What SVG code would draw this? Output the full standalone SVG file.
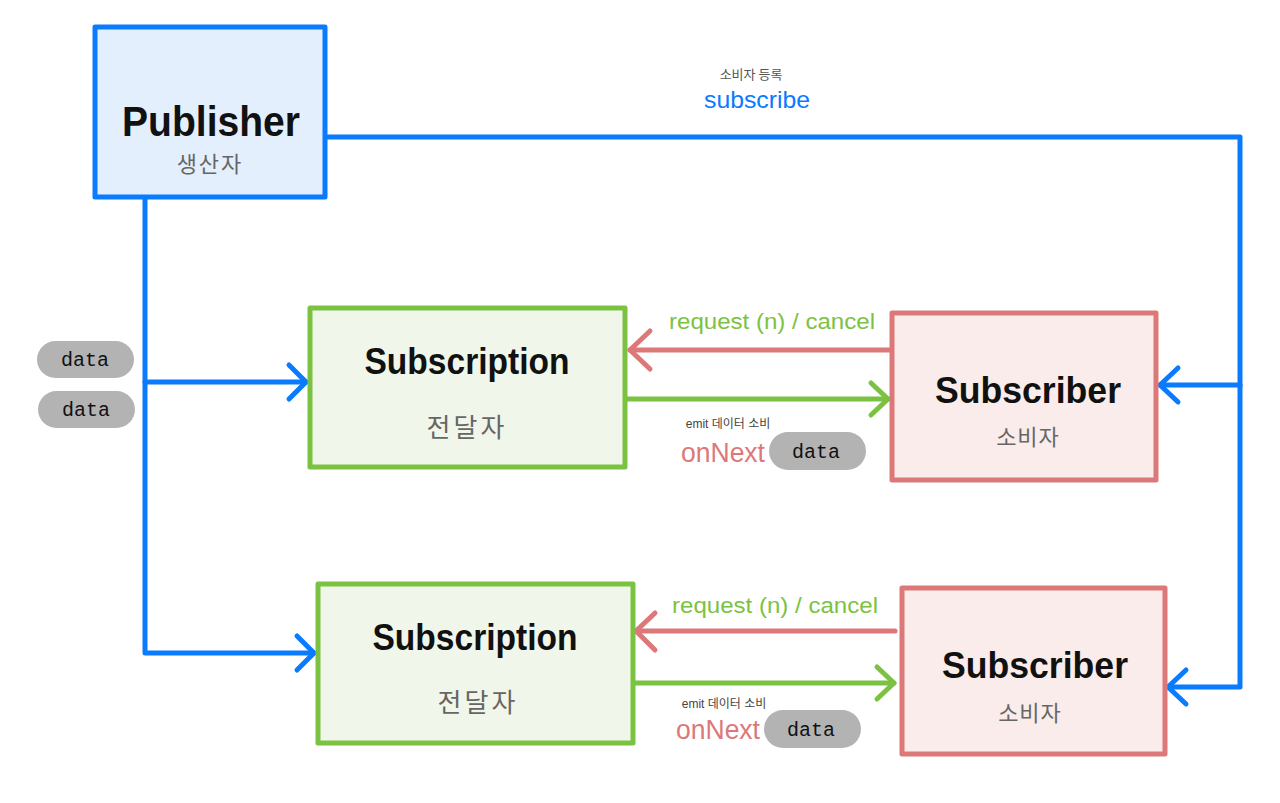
<svg xmlns="http://www.w3.org/2000/svg" width="1280" height="803" viewBox="0 0 1280 803">
<style>
  .blue{fill:none;stroke:#0a7aff;stroke-width:5;stroke-linecap:round;stroke-linejoin:round}
  .red{fill:none;stroke:#dd7878;stroke-width:5;stroke-linecap:round;stroke-linejoin:round}
  .green{fill:none;stroke:#7cc242;stroke-width:5;stroke-linecap:round;stroke-linejoin:round}
  .title{font-family:"Liberation Sans","Noto Sans",sans-serif;font-weight:bold;fill:#111;text-anchor:middle}
  .ko{font-family:"Noto Sans CJK KR",sans-serif;fill:#666;text-anchor:middle}
  .lbl{font-family:"Liberation Sans","Noto Sans",sans-serif;text-anchor:middle}
  .pill{fill:#b3b3b3}
  .ptxt{font-family:"Liberation Mono","DejaVu Sans Mono",monospace;font-size:20px;fill:#111;text-anchor:middle}
</style>
<rect width="1280" height="803" fill="#ffffff"/>

<g id="connectors">
  <!-- publisher to subscribers -->
  <polyline class="blue" points="328,137 1240,137 1240,687 1168,687"/>
  <line class="blue" x1="1240" y1="385" x2="1160" y2="385"/>
  <polyline class="blue" points="1178,368 1160,385 1178,402"/>
  <polyline class="blue" points="1186,670 1168,687 1186,704"/>
  <!-- publisher to subscriptions -->
  <polyline class="blue" points="145,199 145,653 314,653"/>
  <line class="blue" x1="145" y1="382" x2="306" y2="382"/>
  <polyline class="blue" points="289,365 306,382 289,399"/>
  <polyline class="blue" points="297,636 314,653 297,670"/>
  <!-- row 1 -->
  <line class="red" x1="889" y1="350" x2="630" y2="350"/>
  <polyline class="red" points="650,331 630,350 650,369"/>
  <line class="green" x1="627" y1="399" x2="888" y2="399"/>
  <polyline class="green" points="871,383 888,399 871,415"/>
  <!-- row 2 -->
  <line class="red" x1="895" y1="631" x2="636" y2="631"/>
  <polyline class="red" points="655,613 636,631 655,650"/>
  <line class="green" x1="635" y1="683" x2="894" y2="683"/>
  <polyline class="green" points="877,667 894,683 877,699"/>
</g>

<g id="publisher">
  <rect x="95" y="27" width="230" height="170" fill="#e3effd" stroke="#0a7aff" stroke-width="5" stroke-linejoin="round"/>
  <text class="title" x="211" y="136" font-size="42" textLength="178" lengthAdjust="spacingAndGlyphs">Publisher</text>
  <text class="ko" x="210" y="172" font-size="22" letter-spacing="2">생산자</text>
</g>

<g id="subscribe-label">
  <text class="ko" x="751" y="79" font-size="13" fill="#555" style="fill:#555">소비자 등록</text>
  <text class="lbl" x="757" y="108" font-size="24" fill="#0a7aff" textLength="106" lengthAdjust="spacingAndGlyphs">subscribe</text>
</g>

<g id="subscription1">
  <rect x="310" y="308" width="315" height="159" fill="#f0f6e9" stroke="#7cc242" stroke-width="5" stroke-linejoin="round"/>
  <text class="title" x="467" y="374" font-size="36" textLength="205" lengthAdjust="spacingAndGlyphs">Subscription</text>
  <text class="ko" x="467" y="437" font-size="26" letter-spacing="3">전달자</text>
</g>

<g id="subscriber1">
  <rect x="892" y="313" width="264" height="167" fill="#f9eceb" stroke="#dd7878" stroke-width="5" stroke-linejoin="round"/>
  <text class="title" x="1028" y="403" font-size="37" textLength="186" lengthAdjust="spacingAndGlyphs">Subscriber</text>
  <text class="ko" x="1028" y="445" font-size="22" letter-spacing="1">소비자</text>
</g>

<g id="subscription2">
  <rect x="318" y="584" width="315" height="159" fill="#f0f6e9" stroke="#7cc242" stroke-width="5" stroke-linejoin="round"/>
  <text class="title" x="475" y="650" font-size="36" textLength="205" lengthAdjust="spacingAndGlyphs">Subscription</text>
  <text class="ko" x="478" y="712" font-size="26" letter-spacing="3">전달자</text>
</g>

<g id="subscriber2">
  <rect x="902" y="588" width="263" height="166" fill="#f9eceb" stroke="#dd7878" stroke-width="5" stroke-linejoin="round"/>
  <text class="title" x="1035" y="678" font-size="37" textLength="186" lengthAdjust="spacingAndGlyphs">Subscriber</text>
  <text class="ko" x="1030" y="721" font-size="22" letter-spacing="1">소비자</text>
</g>

<g id="left-data">
  <rect class="pill" x="37" y="341" width="97" height="37" rx="18.5"/>
  <text class="ptxt" x="85" y="366">data</text>
  <rect class="pill" x="38" y="391" width="97" height="37" rx="18.5"/>
  <text class="ptxt" x="86" y="416">data</text>
</g>

<g id="row1-labels">
  <text class="lbl" x="772" y="329" font-size="22" fill="#7cc242" textLength="206" lengthAdjust="spacingAndGlyphs">request (n) / cancel</text>
  <text class="lbl" x="728" y="428" font-size="12" fill="#444" style="font-family:'Liberation Sans','Noto Sans CJK KR',sans-serif">emit 데이터 소비</text>
  <text class="lbl" x="723" y="462" font-size="27" fill="#dd7878" textLength="84" lengthAdjust="spacingAndGlyphs">onNext</text>
  <rect class="pill" x="769" y="432" width="97" height="38" rx="19"/>
  <text class="ptxt" x="816" y="458">data</text>
</g>

<g id="row2-labels">
  <text class="lbl" x="775" y="613" font-size="22" fill="#7cc242" textLength="206" lengthAdjust="spacingAndGlyphs">request (n) / cancel</text>
  <text class="lbl" x="724" y="708" font-size="12" fill="#444" style="font-family:'Liberation Sans','Noto Sans CJK KR',sans-serif">emit 데이터 소비</text>
  <text class="lbl" x="718" y="739" font-size="27" fill="#dd7878" textLength="84" lengthAdjust="spacingAndGlyphs">onNext</text>
  <rect class="pill" x="764" y="710" width="97" height="38" rx="19"/>
  <text class="ptxt" x="811" y="736">data</text>
</g>
</svg>
